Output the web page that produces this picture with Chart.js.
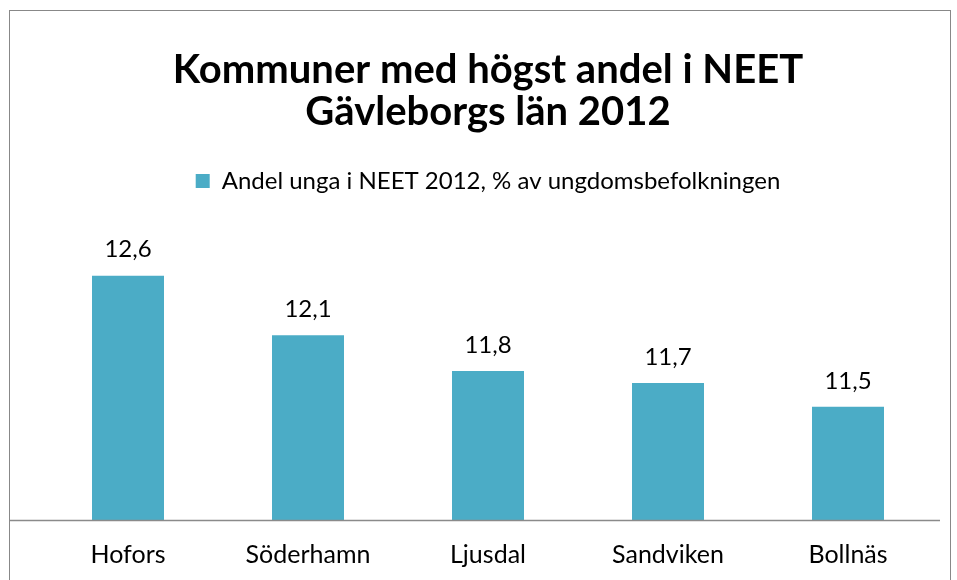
<!DOCTYPE html>
<html>
<head>
<meta charset="utf-8">
<script src="https://cdn.jsdelivr.net/npm/chart.js@4"></script>
<style>
  body { margin: 0; background: #fff; }
  #wrap { position: relative; width: 957px; height: 580px; overflow: hidden; }
  #frame { position: absolute; left: 9px; top: 10px; width: 940px; height: 600px; border: 1px solid #888; }
  #chart { position: absolute; left: 0; top: 0; }
</style>
</head>
<body>
<div id="wrap">
  <div id="frame"></div>
  <canvas id="chart" width="957" height="580"></canvas>
</div>
<script>
// Data
const kommuner = ['Hofors', 'Söderhamn', 'Ljusdal', 'Sandviken', 'Bollnäs'];
const andelNeet = [12.6, 12.1, 11.8, 11.7, 11.5];
const titel = ['Kommuner med högst andel i NEET', 'Gävleborgs län 2012'];
const serieNamn = 'Andel unga i NEET 2012, % av ungdomsbefolkningen';

const barColor = '#4BACC6';
const fontFamily = 'Lato, "Open Sans", sans-serif';

// Skriver värdena ovanför staplarna och drar x-axelns linje
const labelsPlugin = {
  id: 'labelsPlugin',
  afterDatasetsDraw(chart) {
    const ctx = chart.ctx;
    const area = chart.chartArea;
    ctx.save();
    ctx.strokeStyle = '#8a8a8a';
    ctx.lineWidth = 1.5;
    ctx.beginPath();
    ctx.moveTo(area.left - 28, area.bottom + 0.5);
    ctx.lineTo(area.right + 2, area.bottom + 0.5);
    ctx.stroke();

    ctx.fillStyle = '#000';
    ctx.font = '24px ' + fontFamily;
    ctx.textAlign = 'center';
    ctx.textBaseline = 'bottom';
    chart.getDatasetMeta(0).data.forEach(function(bar, i) {
      ctx.fillText(andelNeet[i].toFixed(1).replace('.', ','), bar.x, bar.y - 14);
    });
    ctx.restore();
  }
};

new Chart(document.getElementById('chart'), {
  type: 'bar',
  data: {
    labels: kommuner,
    datasets: [{
      label: serieNamn,
      data: andelNeet,
      backgroundColor: barColor,
      borderColor: barColor,
      borderWidth: 0,
      categoryPercentage: 1,
      barPercentage: 0.4
    }]
  },
  options: {
    responsive: false,
    animation: false,
    layout: { padding: { left: 38, right: 19, top: 0, bottom: 10 } },
    plugins: {
      title: {
        display: true,
        text: titel,
        color: '#000',
        font: { family: fontFamily, size: 40, weight: 'bold', lineHeight: 1.05 },
        padding: { top: 49, bottom: 26 }
      },
      legend: {
        display: true,
        labels: {
          color: '#000',
          font: { family: fontFamily, size: 24 },
          boxWidth: 14,
          boxHeight: 14,
          padding: 10
        }
      },
      tooltip: { enabled: false }
    },
    scales: {
      x: {
        grid: { display: false, drawTicks: false },
        border: { display: false },
        ticks: { color: '#000', font: { family: fontFamily, size: 25 }, padding: 20 },
        // padding räknas två gånger av Chart.js, så höjden sätts här
        afterFit: function(scale) { scale.height = 50; }
      },
      y: {
        display: false,
        min: 10.55,
        max: 13.21
      }
    }
  },
  plugins: [labelsPlugin]
});
</script>
</body>
</html>
